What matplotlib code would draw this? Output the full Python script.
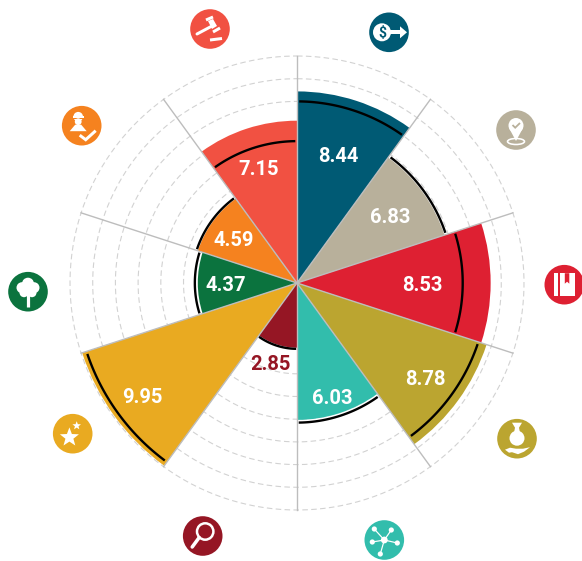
import numpy as np
import matplotlib
matplotlib.use("Agg")
import matplotlib.pyplot as plt
from matplotlib.patches import Circle, Ellipse, Polygon, Rectangle

values = [8.44, 6.83, 8.53, 8.78, 6.03, 2.85, 9.95, 4.37, 4.59, 7.15]
targets = [8.0, 6.9, 7.3, 8.4, 6.15, 2.9, 9.75, 4.5, 4.65, 6.25]
colors = ["#005a74", "#b8b09b", "#de2032", "#bba530", "#32bdac",
          "#951624", "#e9aa21", "#0b733e", "#f5821f", "#f15142"]
label_r = [6.0, 5.15, 5.55, 7.05, 5.2, 3.65, 8.4, 3.1, 3.39, 5.37]
grid_levels = list(range(4, 11))

W, H = 582, 561
CX, CY, R = 297, 283, 227
WHITE = "white"

plt.rcParams["font.family"] = ["Roboto", "DejaVu Sans"]
fig = plt.figure(figsize=(W / 100, H / 100), dpi=100)

ax = fig.add_axes([(CX - R) / W, (H - CY - R) / H, 2 * R / W, 2 * R / H], projection="polar")
ax.set_theta_zero_location("N")
ax.set_theta_direction(-1)
ax.set_ylim(0, 10)
ax.axis("off")

step = 2 * np.pi / len(values)
mids = (np.arange(len(values)) + 0.5) * step

circle_t = np.linspace(0, 2 * np.pi, 500)
for lev in grid_levels:
    ax.plot(circle_t, np.full(500, lev), color="#d2d2d2", lw=0.8, ls=(0, (5, 3)), zorder=1, clip_on=False)

ax.bar(mids, values, width=step, color=colors, linewidth=0, zorder=2)

for i, t in enumerate(targets):
    arc = np.linspace(i * step + 0.012, (i + 1) * step - 0.012, 60)
    ax.plot(arc, np.full(60, t), color="black", lw=1.7, zorder=3, solid_capstyle="butt")

for i in range(len(values)):
    ax.plot([i * step, i * step], [0, 10], color="#bdbdbd", lw=1.0, zorder=4, clip_on=False)

for i, v in enumerate(values):
    col = colors[5] if v < 3 else "white"
    ax.annotate(f"{v:.2f}", (mids[i], label_r[i]), xytext=(-0.6, -2), textcoords="offset points",
                color=col, ha="center", va="center", fontsize=14.5, fontweight="bold", zorder=5)

# icons, drawn in pixel coordinates on top
ov = fig.add_axes([0, 0, 1, 1])
ov.set_xlim(0, W)
ov.set_ylim(H, 0)
ov.axis("off")
ov.patch.set_alpha(0)


def px(w):
    return w * 0.72


def line(cx, cy, pts, w, color=WHITE, cap="butt"):
    xs = [cx + p[0] for p in pts]
    ys = [cy + p[1] for p in pts]
    ov.plot(xs, ys, color=color, lw=px(w), solid_capstyle=cap, solid_joinstyle="miter")


def star(cx, cy, r):
    a = np.arange(10) * np.pi / 5 - np.pi / 2
    rr = np.where(np.arange(10) % 2 == 0, r, r * 0.42)
    ov.add_patch(Polygon(np.c_[cx + rr * np.cos(a), cy + rr * np.sin(a)], fc=WHITE, ec="none"))


icon_pos = [(389, 32.3), (516, 130), (564.3, 284.7), (517, 438.7), (384.3, 540),
            (202.7, 536), (72.7, 433.7), (28, 291.7), (81.7, 125.7), (210, 29)]
for (x, y), c in zip(icon_pos, colors):
    ov.add_patch(Circle((x, y), 19.8, fc=c, ec="none"))

# dollar
x, y = icon_pos[0]
ov.add_patch(Ellipse((x - 7, y), 18, 18, fc=WHITE, ec="none"))
line(x, y, [(0, 0), (12, 0)], 4)
ov.add_patch(Polygon([(x + 11, y - 6), (x + 18, y), (x + 11, y + 6)], fc=WHITE, ec="none"))
ov.text(x - 7, y + 0.3, "$", color=colors[0], fontsize=10, fontweight="bold", ha="center", va="center")

# map pin
x, y = icon_pos[1]
ov.add_patch(Circle((x, y - 4.5), 7.5, fc=WHITE, ec="none"))
ov.add_patch(Polygon([(x - 7, y - 2), (x + 7, y - 2), (x, y + 11)], fc=WHITE, ec="none"))
line(x, y, [(-3.5, -5), (-0.8, -2.3), (4, -7)], 1.8, colors[1])
ov.add_patch(Ellipse((x, y + 11.5), 17, 6, fc="none", ec=WHITE, lw=px(1.6)))

# book
x, y = icon_pos[2]
ov.add_patch(Rectangle((x - 10, y - 11.5), 3.5, 23, fc=WHITE, ec="none"))
ov.add_patch(Rectangle((x - 4.5, y - 11.5), 15, 23, fc=WHITE, ec="none"))
ov.add_patch(Polygon([(x + 0.5, y - 11.5), (x + 5, y - 11.5), (x + 5, y - 1), (x + 2.8, y - 3), (x + 0.5, y - 1)],
                     fc=colors[2], ec="none"))

# money bag on a hand
x, y = icon_pos[3]
ov.add_patch(Ellipse((x, y - 0.5), 15, 15, fc=WHITE, ec="none"))
ov.add_patch(Polygon([(x - 5, y - 16), (x + 5, y - 16), (x + 2, y - 11), (x + 3, y - 6), (x - 3, y - 6), (x - 2, y - 11)],
                     fc=WHITE, ec="none"))
ov.add_patch(Polygon([(x - 12, y + 11), (x - 7, y + 9), (x - 1, y + 10), (x + 6, y + 10), (x + 13, y + 8.5),
                      (x + 7, y + 13), (x + 1, y + 15.5), (x - 5, y + 13.5), (x - 8, y + 14)],
                     fc=WHITE, ec="none"))

# network
x, y = icon_pos[4]
nodes = [(-10, -11), (7, -10), (13, 3), (-12, 2), (-4, 14)]
for n in nodes:
    line(x, y, [(0, 0), n], 1.2)
    ov.add_patch(Circle((x + n[0], y + n[1]), 2.6, fc=WHITE, ec="none"))
ov.add_patch(Circle((x, y), 3.4, fc=WHITE, ec="none"))

# magnifier
x, y = icon_pos[5]
ov.add_patch(Circle((x + 2.5, y - 4.5), 8.2, fc="none", ec=WHITE, lw=px(2.5)))
line(x, y, [(-3.5, 1.5), (-10.5, 11)], 3.5, cap="round")

# stars
x, y = icon_pos[6]
star(x - 3.3, y + 3.7, 10)
star(x + 4, y - 8, 4.5)

# tree
x, y = icon_pos[7]
for dx, dy, r in [(0, -8, 6), (-6, -4, 5.5), (6, -4, 5.5), (-4, 1, 4.5), (4, 1, 4.5), (0, -2, 6)]:
    ov.add_patch(Circle((x + dx, y + dy), r, fc=WHITE, ec="none"))
line(x, y, [(0, 0), (0, 15)], 3.2)

# worker
x, y = icon_pos[8]
ov.add_patch(Circle((x - 3.5, y - 9), 4.8, fc=WHITE, ec="none"))
ov.add_patch(Rectangle((x - 9, y - 9.5), 11, 1.6, fc=WHITE, ec="none"))
ov.add_patch(Rectangle((x - 9, y - 7.9), 11, 1.0, fc=colors[8], ec="none"))
ov.add_patch(Circle((x - 3.5, y - 4), 3.4, fc=WHITE, ec="none"))
ov.add_patch(Polygon([(x - 6.5, y - 1), (x - 0.5, y - 1), (x + 5, y + 5.5), (x - 12, y + 5.5)], fc=WHITE, ec="none"))
line(x, y, [(-2, 9.5), (4, 14), (14, 5)], 3)

# gavel
x, y = icon_pos[9]
line(x, y, [(-13, 5), (3, -3.5)], 3, cap="round")
line(x, y, [(-4, -9), (3, -12)], 3)
line(x, y, [(3, 3), (10, -1)], 3)
ov.add_patch(Polygon([(x - 2, y - 8), (x + 3, y - 10), (x + 7, y - 3), (x + 2, y)], fc=WHITE, ec="none"))
line(x, y, [(0, 11), (12, 9.5)], 3)

fig.savefig("out.png", dpi=100)
plt.close(fig)
